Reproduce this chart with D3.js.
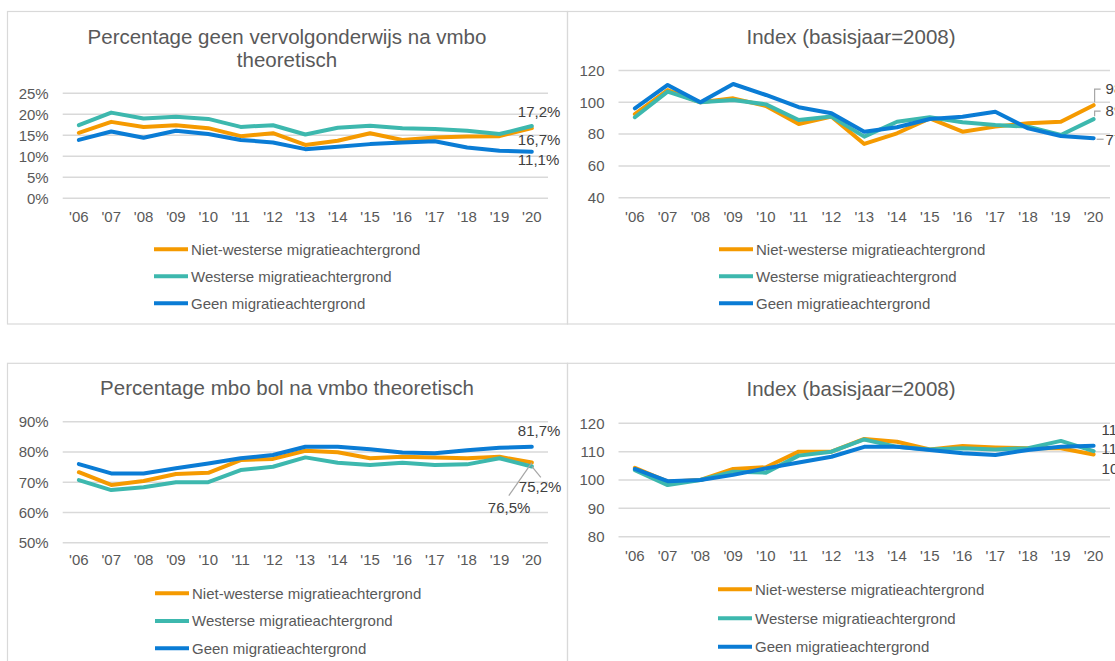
<!DOCTYPE html>
<html>
<head>
<meta charset="utf-8">
<script src="https://cdn.jsdelivr.net/npm/d3@7"></script>
<style>
  html, body { margin: 0; padding: 0; background: #ffffff; }
  svg { display: block; font-family: "Liberation Sans", Arial, sans-serif; overflow: hidden; }
</style>
</head>
<body>
<svg id="chart" width="1115" height="661"></svg>
<script>
// School years 2006 – 2020
const years = ["'06", "'07", "'08", "'09", "'10", "'11", "'12", "'13", "'14", "'15", "'16", "'17", "'18", "'19", "'20"];

const seriesNames = ["Niet-westerse migratieachtergrond", "Westerse migratieachtergrond", "Geen migratieachtergrond"];
const seriesColors = ["#F59A00", "#3DB8AE", "#0A7CD5"];

// Percentage geen vervolgonderwijs na vmbo theoretisch
const geenVervolgNietWesters = [15.6, 18.2, 17.0, 17.4, 16.7, 14.8, 15.5, 12.7, 13.7, 15.5, 13.9, 14.5, 14.7, 14.8, 16.7];
const geenVervolgWesters     = [17.4, 20.4, 19.0, 19.4, 18.9, 17.0, 17.4, 15.2, 16.8, 17.3, 16.7, 16.5, 16.1, 15.3, 17.2];
const geenVervolgGeen        = [13.9, 15.9, 14.4, 16.1, 15.3, 13.9, 13.3, 11.7, 12.3, 12.9, 13.3, 13.6, 12.1, 11.3, 11.1];

// Index (2008 = 100) geen vervolgonderwijs
const geenVervolgIndexNietWesters = [92.6, 107.7, 100, 102.5, 97.7, 86.4, 91.0, 73.8, 80.5, 89.9, 81.5, 84.7, 86.8, 87.8, 98.2];
const geenVervolgIndexWesters     = [90.6, 106.7, 100, 101.4, 98.7, 88.9, 91.0, 78.4, 87.8, 90.6, 87.4, 85.7, 84.7, 79.4, 89.4];
const geenVervolgIndexGeen        = [96.2, 110.9, 100, 111.5, 104.6, 96.9, 93.1, 81.5, 84.3, 89.5, 90.9, 94.1, 83.6, 78.8, 77.4];

// Percentage mbo bol na vmbo theoretisch
const mboBolNietWesters = [73.3, 69.1, 70.4, 72.7, 73.1, 77.3, 77.7, 80.4, 79.9, 77.9, 78.4, 78.2, 77.9, 78.4, 76.5];
const mboBolWesters     = [70.7, 67.4, 68.3, 70.0, 70.0, 74.0, 75.1, 78.2, 76.4, 75.7, 76.4, 75.7, 75.9, 77.9, 75.2];
const mboBolGeen        = [76.0, 72.9, 72.9, 74.6, 76.2, 77.9, 79.0, 81.7, 81.7, 80.9, 79.8, 79.6, 80.6, 81.4, 81.7];

// Index (2008 = 100) mbo bol
const mboBolIndexNietWesters = [104.3, 99.4, 100, 103.9, 104.5, 110.0, 110.0, 114.5, 113.5, 110.8, 112.0, 111.5, 111.2, 111.2, 109.0];
const mboBolIndexWesters     = [103.5, 98.2, 100, 102.9, 102.6, 108.6, 110.0, 114.3, 111.7, 110.8, 111.2, 110.8, 111.2, 113.8, 110.2];
const mboBolIndexGeen        = [103.9, 99.6, 100, 101.8, 104.1, 106.2, 108.2, 111.7, 111.7, 110.6, 109.4, 108.8, 110.6, 111.7, 112.1];

// Axis ticks
const pctTicksTop      = [0, 5, 10, 15, 20, 25];
const indexTicksTop    = [40, 60, 80, 100, 120];
const pctTicksBottom   = [50, 60, 70, 80, 90];
const indexTicksBottom = [80, 90, 100, 110, 120];

const svg = d3.select("#chart");
const textGrey = "#595959";
const labelGrey = "#404040";
const gridGrey = "#d9d9d9";

const fmtPct = v => v.toFixed(1).replace(".", ",") + "%";
const fmtInt = v => String(Math.round(v));

function drawPanel(cfg) {
  const g = svg.append("g");

  // panel frame
  g.append("rect")
    .attr("x", cfg.box[0]).attr("y", cfg.box[1])
    .attr("width", cfg.box[2]).attr("height", cfg.box[3])
    .attr("fill", "none").attr("stroke", gridGrey).attr("stroke-width", 1.2);

  // title
  const title = g.append("text")
    .attr("text-anchor", "middle")
    .attr("fill", textGrey)
    .attr("font-size", 20.5);
  cfg.title.forEach((line, i) => {
    title.append("tspan").attr("x", cfg.titleX).attr("y", cfg.titleY + i * 23.5).text(line);
  });

  const x = d3.scaleBand().domain(years).range(cfg.xRange);
  const y = d3.scaleLinear().domain(cfg.yDomain).range(cfg.yRange);
  const cx = d => x(d) + x.bandwidth() / 2;

  // gridlines
  g.append("g").selectAll("line").data(cfg.ticks).join("line")
    .attr("x1", cfg.xRange[0]).attr("x2", cfg.xRange[1])
    .attr("y1", d => y(d)).attr("y2", d => y(d))
    .attr("stroke", gridGrey).attr("stroke-width", 1.5);

  // y axis labels
  const yAxis = g.append("g")
    .attr("transform", `translate(${cfg.xRange[0]},0)`)
    .call(d3.axisLeft(y).tickValues(cfg.ticks).tickSize(0).tickPadding(14).tickFormat(cfg.tickFormat));
  yAxis.select(".domain").remove();
  yAxis.selectAll("text").attr("fill", textGrey).attr("font-size", 15).attr("font-family", null);

  // x axis labels
  const xAxis = g.append("g")
    .attr("transform", `translate(0,${cfg.yRange[0]})`)
    .call(d3.axisBottom(x).tickSize(0).tickPadding(cfg.xPad));
  xAxis.select(".domain").remove();
  xAxis.selectAll("text").attr("fill", textGrey).attr("font-size", 15).attr("font-family", null);

  // lines
  const line = d3.line().x((d, i) => cx(years[i])).y(d => y(d));
  cfg.series.forEach((vals, k) => {
    g.append("path")
      .datum(vals)
      .attr("d", line)
      .attr("fill", "none")
      .attr("stroke", seriesColors[k])
      .attr("stroke-width", 4)
      .attr("stroke-linejoin", "round")
      .attr("stroke-linecap", "round");
  });

  // end-of-line value labels
  const last = years[years.length - 1];
  const xe = cx(last);
  cfg.labels.forEach(lb => {
    const vals = cfg.series[lb.series];
    const v = vals[vals.length - 1];
    const ye = y(v);
    if (lb.leader) {
      g.append("path")
        .attr("d", lb.leader(xe, ye))
        .attr("fill", "none")
        .attr("stroke", "#a6a6a6")
        .attr("stroke-width", 1.2);
    }
    g.append("text")
      .attr("x", xe + lb.dx)
      .attr("y", ye + lb.dy)
      .attr("dy", "0.35em")
      .attr("fill", labelGrey)
      .attr("font-size", 15)
      .text(cfg.labelFormat(v));
  });

  // legend
  seriesNames.forEach((name, k) => {
    const ly = cfg.legendY[k];
    g.append("line")
      .attr("x1", cfg.legendX).attr("x2", cfg.legendX + 34)
      .attr("y1", ly).attr("y2", ly)
      .attr("stroke", seriesColors[k]).attr("stroke-width", 4);
    g.append("text")
      .attr("x", cfg.legendX + 37).attr("y", ly).attr("dy", "0.35em")
      .attr("fill", textGrey).attr("font-size", 15)
      .text(name);
  });
}

// Top left: percentage geen vervolgonderwijs
drawPanel({
  box: [7.5, 11.5, 560, 312.5],
  title: ["Percentage geen vervolgonderwijs na vmbo", "theoretisch"],
  titleX: 287, titleY: 43.5,
  xRange: [62.7, 548], yDomain: [0, 25], yRange: [198.3, 93.3],
  ticks: pctTicksTop, tickFormat: d => d + "%", xPad: 13,
  series: [geenVervolgNietWesters, geenVervolgWesters, geenVervolgGeen],
  labelFormat: fmtPct,
  labels: [
    { series: 1, dx: -14, dy: -14.5 },
    { series: 0, dx: -14, dy: 12 },
    { series: 2, dx: -14, dy: 8.5 }
  ],
  legendX: 154, legendY: [249.3, 276.3, 303.3]
});

// Top right: index geen vervolgonderwijs
drawPanel({
  box: [567.5, 11.5, 600, 312.5],
  title: ["Index (basisjaar=2008)"],
  titleX: 851, titleY: 43.5,
  xRange: [618.5, 1110], yDomain: [40, 120], yRange: [197.7, 70.5],
  ticks: indexTicksTop, tickFormat: d => String(d), xPad: 13.7,
  series: [geenVervolgIndexNietWesters, geenVervolgIndexWesters, geenVervolgIndexGeen],
  labelFormat: fmtInt,
  labels: [
    { series: 0, dx: 12, dy: -16, leader: (x, y) => `M${x + 1},${y - 3}V${y - 16}H${x + 7}` },
    { series: 1, dx: 12, dy: -8, leader: (x, y) => `M${x + 1},${y - 3}V${y - 8}H${x + 7}` },
    { series: 2, dx: 12, dy: 1.5, leader: (x, y) => `M${x + 3},${y + 1}H${x + 10}` }
  ],
  legendX: 719, legendY: [249.3, 276.3, 303.3]
});

// Bottom left: percentage mbo bol
drawPanel({
  box: [7.5, 363.3, 560, 400],
  title: ["Percentage mbo bol na vmbo theoretisch"],
  titleX: 287, titleY: 395,
  xRange: [62.7, 548], yDomain: [50, 90], yRange: [542.7, 421.7],
  ticks: pctTicksBottom, tickFormat: d => d + "%", xPad: 12,
  series: [mboBolNietWesters, mboBolWesters, mboBolGeen],
  labelFormat: fmtPct,
  labels: [
    { series: 2, dx: -14, dy: -16 },
    { series: 1, dx: -13, dy: 20, leader: (x, y) => `M${x},${y}L${x + 9},${y + 11}` },
    { series: 0, dx: -44, dy: 45.5, leader: (x, y) => `M${x},${y}L${x - 23},${y + 33}` }
  ],
  legendX: 155, legendY: [593.3, 621, 648.3]
});

// Bottom right: index mbo bol
drawPanel({
  box: [567.5, 363.3, 600, 400],
  title: ["Index (basisjaar=2008)"],
  titleX: 851, titleY: 396,
  xRange: [618.5, 1110], yDomain: [80, 120], yRange: [536.7, 423.3],
  ticks: indexTicksBottom, tickFormat: d => String(d), xPad: 13.7,
  series: [mboBolIndexNietWesters, mboBolIndexWesters, mboBolIndexGeen],
  labelFormat: fmtInt,
  labels: [
    { series: 2, dx: 8, dy: -16 },
    { series: 1, dx: 8, dy: -2 },
    { series: 0, dx: 8, dy: 14 }
  ],
  legendX: 718, legendY: [589.3, 618.3, 646.7]
});
</script>
</body>
</html>
